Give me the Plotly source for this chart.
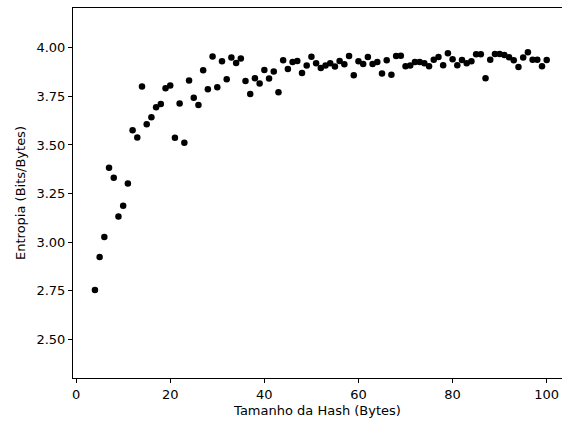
import plotly.graph_objects as go

# tamanho da hash (bytes) e entropia medida
tamanho = list(range(4, 101))
entropia = [
    2.755, 2.924, 3.027, 3.383, 3.331, 3.132, 3.188, 3.302, 3.576, 3.538,  # 4-13
    3.800, 3.606, 3.642, 3.694, 3.711, 3.791, 3.806, 3.537, 3.713, 3.511,  # 14-23
    3.831, 3.742, 3.705, 3.884, 3.786, 3.955, 3.797, 3.930, 3.838, 3.949,  # 24-33
    3.921, 3.945, 3.829, 3.762, 3.843, 3.816, 3.885, 3.841, 3.878, 3.771,  # 34-43
    3.935, 3.891, 3.927, 3.932, 3.870, 3.908, 3.954, 3.920, 3.896, 3.909,  # 44-53
    3.920, 3.903, 3.932, 3.915, 3.957, 3.858, 3.930, 3.916, 3.952, 3.916,  # 54-63
    3.927, 3.867, 3.935, 3.861, 3.957, 3.959, 3.904, 3.908, 3.927, 3.927,  # 64-73
    3.920, 3.904, 3.938, 3.952, 3.910, 3.971, 3.940, 3.910, 3.937, 3.920,  # 74-83
    3.930, 3.966, 3.966, 3.843, 3.938, 3.968, 3.968, 3.963, 3.951, 3.935,  # 84-93
    3.901, 3.950, 3.976, 3.938, 3.938, 3.904, 3.937,                       # 94-100
]

x_ticks = [0, 20, 40, 60, 80, 100]
y_ticks = [2.50, 2.75, 3.00, 3.25, 3.50, 3.75, 4.00]

fig = go.Figure(go.Scatter(
    x=tamanho, y=entropia, mode="markers",
    marker=dict(color="black", size=6.5, line=dict(width=0)),
))

font = dict(family="DejaVu Sans", size=13, color="black")

fig.update_layout(
    width=562, height=421,
    margin=dict(l=73, r=0, t=8, b=43),
    plot_bgcolor="white", paper_bgcolor="white",
    showlegend=False, font=font,
)
fig.update_xaxes(
    range=[-0.66, 103.25], tickvals=x_ticks,
    showgrid=False, zeroline=False,
    showline=True, linecolor="black", linewidth=1, mirror=True,
    ticks="outside", ticklen=4, tickcolor="black",
    title=dict(text="Tamanho da Hash (Bytes)", standoff=5, font=font),
)
fig.update_yaxes(
    range=[2.302, 4.204], tickvals=y_ticks, tickformat=".2f",
    showgrid=False, zeroline=False,
    showline=True, linecolor="black", linewidth=1,
    ticks="outside", ticklen=4, tickcolor="black",
    title=dict(text="Entropia (Bits/Bytes)", standoff=7, font=font),
)

# tira a margem padrão do body para a figura caber na janela
fig.write_html("out.html", config={"displayModeBar": False},
               post_script="document.body.style.margin='0';")
